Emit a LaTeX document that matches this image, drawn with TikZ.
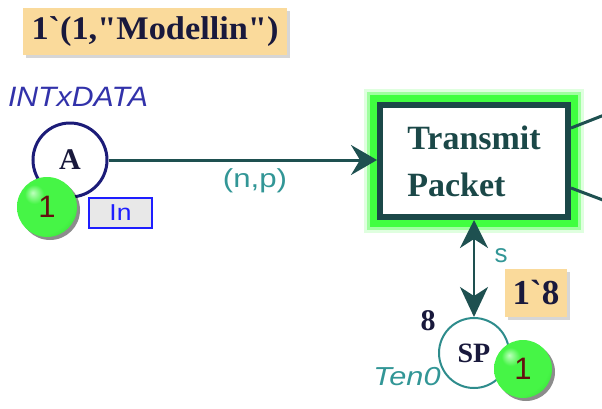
\documentclass[tikz,border=0pt]{standalone}
\usepackage{fontspec}
\setmainfont{Liberation Serif}
\setsansfont{Liberation Sans}
\newfontfamily\inscfont{Liberation Serif}
\usetikzlibrary{arrows.meta,shadows,backgrounds}
\definecolor{labfill}{RGB}{250,218,155}
\definecolor{navytext}{RGB}{25,25,60}
\definecolor{typeblue}{RGB}{50,50,170}
\definecolor{placeA}{RGB}{28,28,120}
\definecolor{arcteal}{RGB}{30,80,80}
\definecolor{labteal}{RGB}{50,150,150}
\definecolor{transborder}{RGB}{27,72,72}
\definecolor{glowgreen}{RGB}{40,255,40}
\definecolor{spteal}{RGB}{46,140,140}
\definecolor{tokhi}{RGB}{190,255,190}
\definecolor{tokmid}{RGB}{70,245,70}
\definecolor{tokedge}{RGB}{25,165,25}
\definecolor{tokred}{RGB}{100,15,15}
\definecolor{inblue}{RGB}{30,30,255}
\definecolor{ingray}{RGB}{232,232,232}
\pgfdeclareradialshading{greenball}{\pgfpoint{-12bp}{12bp}}{%
  color(0bp)=(tokhi); color(8bp)=(tokmid); color(30bp)=(tokmid);
  color(56bp)=(tokedge); color(70bp)=(tokedge)}
\begin{document}
\begin{tikzpicture}[x=1pt,y=-1pt,
  markbox/.style={fill=labfill, inner sep=0pt, text=navytext,
    font=\inscfont\bfseries\fontsize{33}{36}\selectfont,
    drop shadow={shadow xshift=3pt,shadow yshift=-3pt,fill=gray!40,opacity=.8}},
  placeshape/.style={circle, fill=white, inner sep=0pt, minimum size=#1},
  token/.style={circle, shading=greenball, inner sep=0pt,
    minimum size=60pt, text=tokred, font=\sffamily\fontsize{31}{32}\selectfont,
    drop shadow={shadow xshift=3pt,shadow yshift=-3pt,fill=black,opacity=.45}},
  arcline/.style={draw=arcteal, line width=3pt},
  labtext/.style={text=labteal, font=\sffamily\fontsize{26}{28}\selectfont},
]
\useasboundingbox (0,0) rectangle (602,408);
\clip (0,0) rectangle (602,408);

% initial marking label of A
\node[markbox, minimum width=264pt, minimum height=47pt] (initA) at (155,31.5) {\scalebox{1.04}[1]{1`(1,"Modellin")}};
% colour set of A
\node[text=typeblue, font=\sffamily\itshape\fontsize{28}{30}\selectfont] (typeA) at (78,97) {\scalebox{1.08}[1]{INTxDATA}};

% place A
\node[placeshape=74pt, draw=placeA, line width=3pt, font=\bfseries\fontsize{30}{32}\selectfont, text=navytext] (A) at (70,160) {A};

% port tag
\node[draw=inblue, line width=1.5pt, fill=ingray, minimum width=63pt, minimum height=30pt, inner sep=0pt,
  text=inblue, font=\sffamily\fontsize{23}{24}\selectfont] (inTag) at (120.5,213) {\scalebox{1.15}[1]{In}};

% transition
\node[draw=transborder, fill=white, line width=6pt, minimum width=188pt, minimum height=112pt,
  text=transborder, align=left, font=\bfseries\fontsize{34}{47}\selectfont] (T) at (474,161) {Transmit\\Packet};
\begin{scope}[on background layer]
  \draw[glowgreen, line width=26pt, opacity=.15] (T.north west) rectangle (T.south east);
  \draw[glowgreen, line width=20pt, opacity=.35] (T.north west) rectangle (T.south east);
  \draw[glowgreen, line width=14pt, opacity=.8] (T.north west) rectangle (T.south east);
\end{scope}

% place SP
\node[placeshape=70pt, draw=spteal, line width=2pt, font=\bfseries\fontsize{28}{30}\selectfont, text=navytext] (SP) at (474,353) {SP};
\node[font=\bfseries\fontsize{30}{32}\selectfont, text=navytext] (initSPv) at (428,321) {8};
\node[text=labteal, font=\sffamily\itshape\fontsize{26}{28}\selectfont] (typeSP) at (407,377) {\scalebox{1.18}[1]{Ten0}};
\node[markbox, minimum width=62pt, minimum height=48pt, font=\inscfont\bfseries\fontsize{35}{36}\selectfont] (initSP) at (536,293) {1`8};

% arcs
\draw[arcline, -{Stealth[length=26pt,width=30pt,inset=9pt]}] (A.east) -- (T.west |- A.east);
\node[labtext] (npLabel) at (255,181) {\scalebox{1.2}[1]{(n,p)}};
\draw[draw=arcteal, line width=2.5pt, {Stealth[length=28pt,width=28pt,inset=9pt]}-{Stealth[length=30pt,width=28pt,inset=9pt]}]
  (SP.north |- T.south) -- (SP.north);
\node[labtext] (sLabel) at (501,256) {s};

% outgoing arcs leaving the picture
\coordinate (outUp) at (640,101);
\coordinate (outDown) at (640,214);
\draw[arcline] (T.east |- 0,128) -- (outUp);
\draw[arcline] (T.east |- 0,188) -- (outDown);

% tokens
\node[token] (tokA) at (47,207) {1};
\node[token, minimum size=58pt] (tokSP) at (523,369) {1};
\end{tikzpicture}
\end{document}
